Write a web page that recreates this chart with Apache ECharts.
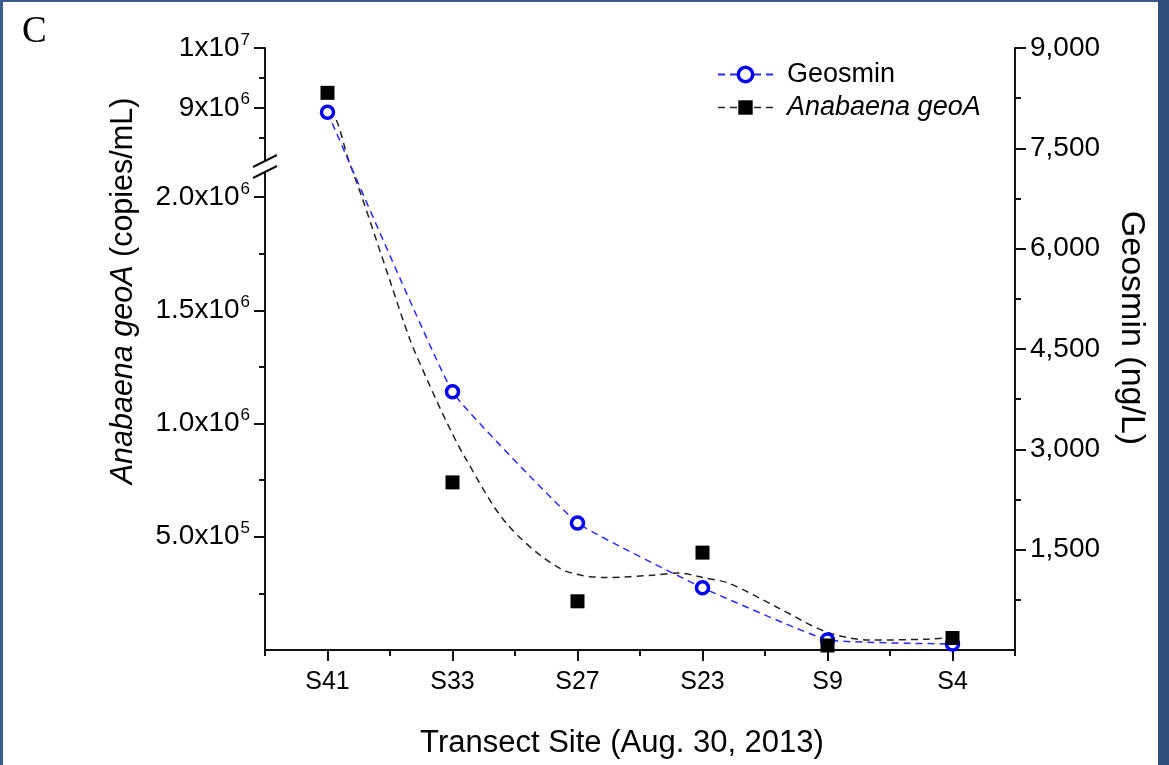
<!DOCTYPE html>
<html>
<head>
<meta charset="utf-8">
<title>Transect Site (Aug. 30, 2013)</title>
<script src="https://cdn.jsdelivr.net/npm/echarts@6/dist/echarts.min.js"></script>
<style>
    html, body { margin: 0; padding: 0; background: #fff; }
    #main { width: 1169px; height: 765px; }
</style>
</head>
<body>
<div id="main"></div>
<script>
const sites = ['S41', 'S33', 'S27', 'S23', 'S9', 'S4'];
const geosmin = [8040, 3860, 1900, 930, 150, 90];             // ng/L, right axis
const geoA = [9.25e6, 7.4e5, 2.15e5, 4.3e5, 2.0e4, 5.3e4];     // copies/mL, left axis

// dashed fitted curve for geoA (x = site position)
const geoAFitX = [0, 0.07, 0.16, 0.275, 0.5, 0.66, 0.8, 0.95, 1.1, 1.43, 1.86, 2.23, 2.6, 2.81, 3.0, 3.21, 3.61, 3.99, 4.33, 4.81, 5.0];
const geoAFitY = [8.93e6, 8.8e6, 8.18e6, 2.0e6, 1.63e6, 1.37e6, 1.19e6, 1.01e6, 8.5e5, 5.6e5, 3.6e5, 3.2e5, 3.3e5, 3.4e5, 3.2e5, 2.95e5, 1.85e5, 8.0e4, 4.4e4, 4.8e4, 5.7e4];

const leftTicks = [5e5, 1e6, 1.5e6, 2e6, 9e6, 1e7];
const leftTickLabels = [['5.0x10', '5'], ['1.0x10', '6'], ['1.5x10', '6'], ['2.0x10', '6'], ['9x10', '6'], ['1x10', '7']];
const leftMinorTicks = [2.5e5, 7.5e5, 1.25e6, 1.75e6, 8.5e6, 9.5e6];
const rightTicks = [1500, 3000, 4500, 6000, 7500, 9000];

// broken left axis: lower part 0..BREAK_LOW, upper part BREAK_HIGH..1e7 squeezed
const BREAK_LOW = 2.13e6;
const BREAK_HIGH = 8.0e6;
const UPPER_RATIO = 0.264;
function brk (v) {
    return v <= BREAK_LOW ? v : BREAK_LOW + (v - BREAK_HIGH) * UPPER_RATIO;
}

const FONT = 'Liberation Sans';
const AXIS_COLOR = '#111';
const tickStyle = { color: AXIS_COLOR, width: 2 };

let chart = echarts.init(document.getElementById('main'));

chart.setOption({
    backgroundColor: '#fff',
    animation: false,
    textStyle: { fontFamily: FONT, color: '#000' },
    title: {
        text: 'C',
        left: 17,
        top: 9,
        textStyle: { fontFamily: 'Liberation Serif', fontWeight: 'normal', fontSize: 37, color: '#000' }
    },
    legend: {
        orient: 'vertical',
        left: 712,
        top: 56,
        itemWidth: 55,
        itemHeight: 18,
        itemGap: 6,
        textStyle: { fontFamily: FONT, fontSize: 27, color: '#000', padding: [0, 0, 0, 9] },
        data: [
            { name: 'Geosmin', itemStyle: { borderWidth: 3.5 } },
            {
                name: 'Anabaena geoA',
                textStyle: { fontStyle: 'italic' },
                lineStyle: { opacity: 1, width: 1.5, type: [7, 5], color: '#222' }
            }
        ]
    },
    grid: { left: 265, right: 154, top: 48, bottom: 115 },
    xAxis: [{
        type: 'value',
        min: -0.5,
        max: 5.5,
        splitLine: { show: false },
        axisLine: { onZero: false, lineStyle: tickStyle },
        axisTick: { customValues: [0, 1, 2, 3, 4, 5], length: 11, lineStyle: tickStyle },
        axisLabel: {
            customValues: [0, 1, 2, 3, 4, 5],
            margin: 20,
            fontSize: 25,
            color: '#000',
            formatter: (v) => sites[Math.round(v)]
        },
        name: 'Transect Site (Aug. 30, 2013)',
        nameLocation: 'middle',
        nameGap: 78,
        nameTextStyle: { fontSize: 31, color: '#000', padding: [0, 36, 0, 0] }
    }, {
        type: 'value',
        min: -0.5,
        max: 5.5,
        position: 'bottom',
        splitLine: { show: false },
        axisLine: { show: false, onZero: false },
        axisTick: { customValues: [-0.5, 0.5, 1.5, 2.5, 3.5, 4.5, 5.5], length: 6, lineStyle: tickStyle },
        axisLabel: { show: false }
    }],
    yAxis: [{
        type: 'value',
        position: 'left',
        min: 0,
        max: brk(1e7),
        splitLine: { show: false },
        axisLine: { show: true, onZero: false, lineStyle: tickStyle },
        axisTick: { show: true, customValues: leftTicks.map(brk), length: 11, lineStyle: tickStyle },
        axisLabel: {
            customValues: leftTicks.map(brk),
            margin: 15,
            color: '#000',
            formatter: (v) => {
                let i = leftTicks.findIndex((t) => Math.abs(brk(t) - v) < 10);
                if (i < 0) return '';
                return '{b|' + leftTickLabels[i][0] + '}{s|' + leftTickLabels[i][1] + '}';
            },
            rich: {
                b: { fontSize: 28, fontFamily: FONT, color: '#000' },
                s: { fontSize: 17, fontFamily: FONT, color: '#000', padding: [0, 0, 16, 1] }
            }
        }
    }, {
        type: 'value',
        position: 'left',
        min: 0,
        max: brk(1e7),
        splitLine: { show: false },
        axisLine: { show: false, onZero: false },
        axisTick: { show: true, customValues: leftMinorTicks.map(brk), length: 6, lineStyle: tickStyle },
        axisLabel: { show: false }
    }, {
        type: 'value',
        position: 'right',
        min: 0,
        max: 9000,
        interval: 1500,
        splitLine: { show: false },
        axisLine: { show: true, onZero: false, lineStyle: tickStyle },
        axisTick: { show: true, customValues: rightTicks, length: 11, lineStyle: tickStyle },
        minorTick: { show: true, splitNumber: 2, length: 6, lineStyle: tickStyle },
        axisLabel: {
            customValues: rightTicks,
            margin: 15,
            fontSize: 28,
            color: '#000',
            formatter: (v) => v.toLocaleString('en-US')
        },
        name: 'Geosmin (ng/L)',
        nameLocation: 'middle',
        nameRotate: -90,
        nameGap: 99,
        nameTextStyle: { fontSize: 34, color: '#000', padding: [0, 42, 0, 0] }
    }],
    graphic: [
        // left axis title with italic gene name
        {
            type: 'text',
            x: 124,
            y: 291,
            rotation: Math.PI / 2,
            style: {
                text: '{i|Anabaena geoA} (copies/mL)',
                align: 'center',
                verticalAlign: 'middle',
                fontFamily: FONT,
                fontSize: 30.5,
                fill: '#000',
                rich: { i: { fontStyle: 'italic', fontFamily: FONT, fontSize: 30.5, fill: '#000' } }
            }
        },
        // axis break mark
        { type: 'polygon', shape: { points: [[253, 167], [277, 155], [277, 166], [253, 178]] }, style: { fill: '#fff' }, z: 100 },
        { type: 'line', shape: { x1: 253, y1: 167, x2: 277, y2: 155 }, style: { stroke: AXIS_COLOR, lineWidth: 2 }, z: 101 },
        { type: 'line', shape: { x1: 253, y1: 178, x2: 277, y2: 166 }, style: { stroke: AXIS_COLOR, lineWidth: 2 }, z: 101 },
        // frame of the slide
        { type: 'rect', shape: { x: 0, y: 0, width: 1169, height: 2 }, style: { fill: '#3b5b88' }, z: 200 },
        { type: 'rect', shape: { x: 0, y: 0, width: 3, height: 765 }, style: { fill: '#3b5b88' }, z: 200 },
        { type: 'rect', shape: { x: 1158, y: 0, width: 11, height: 765 }, style: { fill: '#2f4e7c' }, z: 200 }
    ],
    series: [{
        name: 'Geosmin',
        type: 'line',
        xAxisIndex: 0,
        yAxisIndex: 2,
        smooth: 0.1,
        symbol: 'circle',
        symbolSize: 12,
        data: geosmin.map((v, i) => [i, v]),
        lineStyle: { color: '#2a2aff', width: 1.5, type: [7, 5] },
        itemStyle: { color: '#fff', borderColor: '#0000ff', borderWidth: 3.5 },
        z: 3
    }, {
        name: 'Anabaena geoA fit',
        type: 'line',
        xAxisIndex: 0,
        yAxisIndex: 0,
        smooth: 0.3,
        showSymbol: false,
        silent: true,
        data: geoAFitX.map((x, i) => [x, brk(geoAFitY[i])]),
        lineStyle: { color: '#222', width: 1.5, type: [7, 5] },
        z: 2
    }, {
        name: 'Anabaena geoA',
        type: 'line',
        xAxisIndex: 0,
        yAxisIndex: 0,
        symbol: 'rect',
        symbolSize: 14,
        data: geoA.map((v, i) => [i, brk(v)]),
        lineStyle: { opacity: 0, width: 0 },
        itemStyle: { color: '#000' },
        z: 4
    }]
});
</script>
</body>
</html>
